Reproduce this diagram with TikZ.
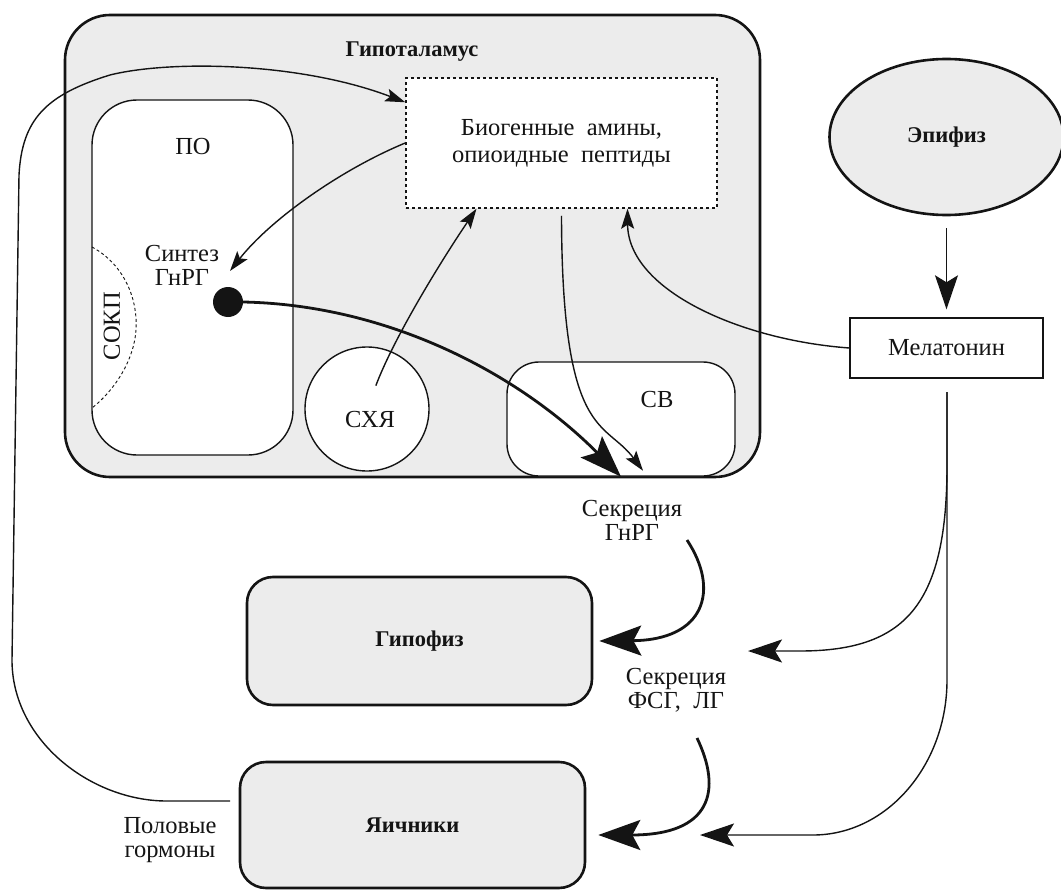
\documentclass[tikz,border=0pt]{standalone}
\usepackage{fontspec}
\setmainfont{Liberation Serif}
\usepackage{tikz}
\usetikzlibrary{arrows.meta,shapes.geometric,calc}
\definecolor{ink}{RGB}{20,20,20}
\definecolor{shade}{RGB}{236,236,236}
\tikzset{
  organ/.style={draw=ink,line width=2.6pt,rounded corners=26pt,fill=shade,text=ink,
    font=\fontsize{22.5}{25}\selectfont\bfseries},
  zone/.style={draw=ink,line width=1.4pt,fill=white},
  lbl/.style={font=\fontsize{24.5}{24}\selectfont,align=center,inner sep=0pt,text=ink},
  arr/.style={-{Stealth[length=20pt,width=13pt,inset=4pt]},line width=1.4pt,ink},
  bigarr/.style={-{Stealth[length=34pt,width=23pt,inset=7pt]},line width=1.4pt,ink},
  fatarr/.style={-{Stealth[length=42pt,width=30pt,inset=8pt]},line width=2.8pt,ink},
}

\begin{document}
\begin{tikzpicture}[x=1pt,y=-1pt]
  \useasboundingbox (0,0) rectangle (1061,891);
  % hypothalamus and its zones
  \node[organ,rounded corners=45pt,minimum width=695pt,minimum height=462pt] (hyp) at (412.5,246) {};
  \node[lbl,font=\fontsize{22.5}{25}\selectfont\bfseries] (hyptitle) at (412,52) {Гипоталамус};
  \node[zone,rounded corners=45pt,minimum width=201pt,minimum height=355pt] (po) at (192.5,277.5) {};
  \node[lbl] (potitle) at (193,147) {ПО};
  \draw[ink,line width=0.9pt,dash pattern=on 3pt off 2.5pt]
    (92,247) .. controls (125,265) and (138,300) .. (136,330)
    .. controls (134,360) and (115,390) .. (92,408);
  \node[lbl,rotate=90] (sokp) at (112,326) {СОКП};
  \node[lbl] (synth) at (182,265) {Синтез\\ГнРГ};
  \node[circle,fill=ink,minimum size=30pt,inner sep=0pt] (dot) at (228,302) {};
  \node[zone,circle,minimum size=124pt,inner sep=0pt] (sxy) at (367,409) {};
  \node[lbl] (sxytext) at (370,420) {СХЯ};
  \node[zone,rounded corners=32pt,minimum width=228pt,minimum height=114pt] (sv) at (621,419) {};
  \node[lbl] (svtext) at (657,400) {СВ};
  \node[zone,lbl,line width=1.5pt,dash pattern=on 3pt off 3pt,minimum width=311pt,minimum height=130pt,
    font=\fontsize{24.5}{27}\selectfont] (amines) at (561.5,143) {Биогенные\ \ амины,\\опиоидные\ \ пептиды};

  % pineal gland
  \node[organ,ellipse,minimum width=234pt,minimum height=156pt] (epi) at (946.5,137) {Эпифиз};
  \node[zone,lbl,minimum width=193pt,minimum height=60pt] (mel) at (946.5,348) {Мелатонин};

  % pituitary and ovaries
  \node[organ,minimum width=345pt,minimum height=128pt] (pit) at (419.5,641) {Гипофиз};
  \node[organ,minimum width=345pt,minimum height=126pt] (ovr) at (412.5,825) {Яичники};
  \node[lbl] (secgn) at (632,520) {Секреция\\ГнРГ};
  \node[lbl] (secfl) at (676,690) {Секреция\\ФСГ,\ \ ЛГ};
  \node[lbl] (sexh) at (170,840) {Половые\\гормоны};

  \coordinate (fbstart) at (230,801);
  \coordinate (synthtip) at (230,271);
  \coordinate (melout) at (947,392);
  \coordinate (pitmel) at (748,651);
  \coordinate (ovrmel) at (700,835);
  \coordinate (secgnout) at (687,540);
  \coordinate (secflout) at (697,738);

  % connections
  \draw[arr] (fbstart) -- (165,801) .. controls (90,800) and (12,740) .. (12,660)
    -- (19,175) .. controls (22,120) and (45,95) .. (110,75)
    .. controls (170,60) and (300,62) .. ([yshift=-25pt]amines.north west);
  \draw[arr] (amines.west) .. controls (340,170) and (270,220) .. (synthtip);
  \draw[fatarr] (dot.east) .. controls (390,305) and (520,375) .. (sv.south);
  \draw[arr] ([yshift=-7pt]amines.south) .. controls (562,440) and (605,420) .. ([xshift=22pt,yshift=6pt]sv.south);
  \draw[arr,shorten <=25pt] (sxy.center) .. controls (395,335) and (445,255) .. ([xshift=-85pt]amines.south);
  \draw[arr] (mel.west) .. controls (740,340) and (628,290) .. ([xshift=66pt]amines.south);
  \draw[bigarr,shorten <=12pt,shorten >=8pt] (epi.south) -- (mel.north);
  \draw[bigarr] (melout) -- (947,470) .. controls (946,605) and (905,651) .. (800,651) -- (pitmel);
  \draw[bigarr] (melout) -- (947,680) .. controls (947,765) and (887,835) .. (813,835) -- (ovrmel);
  \draw[fatarr] (secgnout) .. controls (720,590) and (705,640) .. ([xshift=6pt]pit.east);
  \draw[fatarr] (secflout) .. controls (722,790) and (712,835) .. ([xshift=12pt,yshift=-10pt]ovr.east);
\end{tikzpicture}
\end{document}
